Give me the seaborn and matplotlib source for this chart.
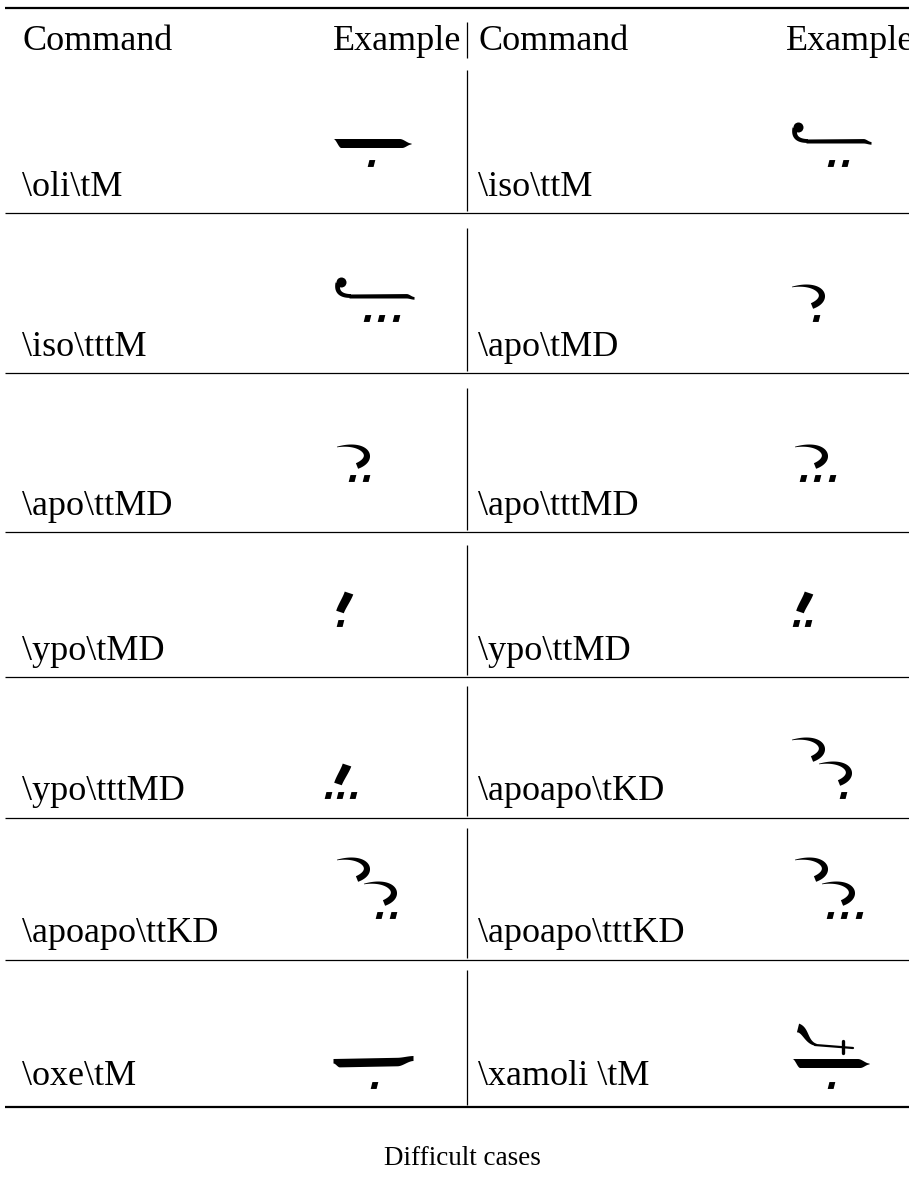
import numpy as np
import matplotlib
matplotlib.use("Agg")
import matplotlib.pyplot as plt
import seaborn as sns
import pandas as pd

# ---------------- data ----------------
header = ["Command", "Example"]
caption = "Difficult cases"
commands_left = ["\\oli\\tM", "\\iso\\tttM", "\\apo\\ttMD", "\\ypo\\tMD",
                 "\\ypo\\tttMD", "\\apoapo\\ttKD", "\\oxe\\tM"]
commands_right = ["\\iso\\ttM", "\\apo\\tMD", "\\apo\\tttMD", "\\ypo\\ttMD",
                  "\\apoapo\\tKD", "\\apoapo\\tttKD", "\\xamoli \\tM"]
neume_left = ["oli", "iso", "apo", "ypo", "ypo", "apoapo", "oxe"]
dots_left = [1, 3, 2, 1, 3, 2, 1]
neume_right = ["iso", "apo", "apo", "ypo", "apoapo", "apoapo", "xamoli"]
dots_right = [2, 1, 3, 2, 1, 3, 1]

# ---------------- layout ----------------
W, H = 909, 1184
sns.set_theme(style="white")
plt.rcParams["font.family"] = ["Liberation Serif", "DejaVu Serif"]
FS = 26
FS_CAP = 19.5

fig = plt.figure(figsize=(W / 100, H / 100), dpi=100)
ax = fig.add_axes([0, 0, 1, 1])
ax.set_xlim(0, W)
ax.set_ylim(H, 0)
ax.axis("off")

row_lines = [213, 373, 532, 677, 818, 960]
row_base = [196, 356, 515, 660, 800, 942, 1085]
vline_span = [(70, 211), (228, 371), (388, 530), (545, 675), (686, 816), (828, 958), (970, 1105)]
glyph_y = [163, 318, 478, 623, 795, 915, 1085]
glyph_x_left = [333, 336, 337, 335, 333, 337, 333]
glyph_x_right = [793, 792, 795, 795, 792, 795, 792]
sep_x = 467
col_left_x, col_right_x = 22, 478
ex_left_r, ex_right_r = 461, 914

# rules
ax.hlines([8], 5, W, color="black", lw=1.6)
ax.hlines(row_lines, 5, W, color="black", lw=0.9)
ax.hlines([1107], 5, W, color="black", lw=1.6)
ax.vlines([sep_x], 22, 58, color="black", lw=0.9)
for (a, b) in vline_span:
    ax.vlines([sep_x], a, b, color="black", lw=0.9)

# text
TXT = dict(fontsize=FS, va="baseline", color="black")
ax.text(col_left_x, 50, header[0], ha="left", **TXT)
ax.text(ex_left_r, 50, header[1], ha="right", **TXT)
ax.text(col_right_x, 50, header[0], ha="left", **TXT)
ax.text(ex_right_r, 50, header[1], ha="right", **TXT)
for i in range(len(commands_left)):
    ax.text(col_left_x, row_base[i], commands_left[i], ha="left", **TXT)
    ax.text(col_right_x, row_base[i], commands_right[i], ha="left", **TXT)
ax.text(462, 1165, caption, fontsize=FS_CAP, va="baseline", ha="center", color="black")


# ---------------- glyph helpers ----------------
def sm(t):
    t = np.clip(t, 0, 1)
    return t * t * (3 - 2 * t)


def stroke(p0, p1, p2, p3, wfun, n=120):
    t = np.linspace(0, 1, n)[:, None]
    p0, p1, p2, p3 = map(np.array, (p0, p1, p2, p3))
    P = ((1 - t) ** 3) * p0 + 3 * ((1 - t) ** 2) * t * p1 + 3 * (1 - t) * t * t * p2 + (t ** 3) * p3
    D = 3 * ((1 - t) ** 2) * (p1 - p0) + 6 * (1 - t) * t * (p2 - p1) + 3 * t * t * (p3 - p2)
    D = D / np.linalg.norm(D, axis=1, keepdims=True)
    N = np.column_stack([-D[:, 1], D[:, 0]])
    w = wfun(t[:, 0])[:, None]
    outer = P + N * w / 2
    inner = P - N * w / 2
    poly = np.vstack([outer, inner[::-1]])
    ax.fill(poly[:, 0], poly[:, 1], color="black", lw=0)


dot_marker = [(-0.55, -0.5), (-0.3, 0.5), (0.55, 0.5), (0.3, -0.5)]
dot_pts = []


def add_dots(cx, y, n, sp=14.5):
    for k in range(n):
        dot_pts.append((cx + (k - (n - 1) / 2) * sp, y))


def oli(ox, oy, width=78, yoff=-20):
    xs = np.linspace(ox, ox + width, 200)
    s = (xs - ox) / width
    yc = oy + yoff
    top = yc - 4.5 + 4.5 * sm((s - 0.85) / 0.15)
    bot = yc + 4.5 - 9 * (1 - sm(s / 0.1)) - 3.5 * sm((s - 0.88) / 0.12)
    ax.fill_between(xs, top, bot, color="black", lw=0)


def iso(ox, oy):
    yc = oy - 22
    xs = np.linspace(ox + 13, ox + 78, 200)
    s = (xs - xs[0]) / (xs[-1] - xs[0])
    top = yc - 2 - 0.5 * s + 3 * sm((s - 0.88) / 0.12)
    bot = yc + 2 + 1.2 * sm((s - 0.88) / 0.12)
    ax.fill_between(xs, top, bot, color="black", lw=0)
    stroke((ox + 2, yc - 13), (ox + 0, yc - 4), (ox + 5, yc), (ox + 15, yc),
           lambda t: 5.0 - 1.2 * t)
    ax.add_patch(plt.Circle((ox + 5.5, yc - 13.5), 5.0, color="black", lw=0))


def apo(ox, oy):
    stroke((ox, oy - 31), (ox + 28, oy - 37), (ox + 40, oy - 20), (ox + 20, oy - 12),
           lambda t: 0.6 + 5.8 * np.sin(np.clip(t, 0, 1) * np.pi * 0.62))


def ypo(ox, oy):
    stroke((ox + 14, oy - 30), (ox + 12, oy - 24), (ox + 7, oy - 17), (ox + 5, oy - 11),
           lambda t: 9.0 - 1.0 * t)


def oxe(ox, oy):
    width = 80
    xs = np.linspace(ox, ox + width, 200)
    s = (xs - ox) / width
    yc = oy - 23
    top = yc - 3.5 - 1.5 * s - 1.5 * sm((s - 0.8) / 0.2)
    bot = yc + 5 - 4 * (1 - sm(s / 0.08)) - 1.5 * s - 5 * sm((s - 0.8) / 0.2)
    ax.fill_between(xs, top, bot, color="black", lw=0)


def xamoli(ox, oy):
    oli(ox, oy, width=77, yoff=-22)
    stroke((ox + 6, oy - 57), (ox + 14, oy - 55), (ox + 14, oy - 42), (ox + 25, oy - 40),
           lambda t: 9.0 - 7.0 * t)
    ax.plot([ox + 23, ox + 61], [oy - 40, oy - 37], color="black", lw=1.6, solid_capstyle="round")
    ax.plot([ox + 51, ox + 51], [oy - 44, oy - 32], color="black", lw=2.4)


def draw_glyph(kind, ndots, ox, oy):
    if kind == "oli":
        oli(ox, oy)
        add_dots(ox + 38, oy, ndots)
    elif kind == "iso":
        iso(ox, oy)
        add_dots(ox + 45, oy, ndots)
    elif kind == "apo":
        apo(ox, oy)
        add_dots(ox + (24 if ndots == 1 else 22), oy, ndots)
    elif kind == "ypo":
        ypo(ox, oy)
        add_dots(ox + (5 if ndots == 1 else 7), oy, ndots, sp=12.5)
    elif kind == "apoapo":
        apo(ox, oy - 24)
        apo(ox + 27, oy)
        add_dots(ox + 27 + (24 if ndots == 1 else 22), oy, ndots)
    elif kind == "oxe":
        oxe(ox, oy)
        add_dots(ox + 41, oy, ndots)
    elif kind == "xamoli":
        xamoli(ox, oy)
        add_dots(ox + 39, oy, ndots)


for i in range(len(neume_left)):
    draw_glyph(neume_left[i], dots_left[i], glyph_x_left[i], glyph_y[i])
    draw_glyph(neume_right[i], dots_right[i], glyph_x_right[i], glyph_y[i])

dots_df = pd.DataFrame(dot_pts, columns=["x", "y"])
sns.scatterplot(data=dots_df, x="x", y="y", marker=dot_marker, s=30, color="black",
                linewidth=0, ax=ax, legend=False)
ax.set_xlim(0, W)
ax.set_ylim(H, 0)
ax.axis("off")

fig.savefig("out.png", dpi=100, facecolor="white")
